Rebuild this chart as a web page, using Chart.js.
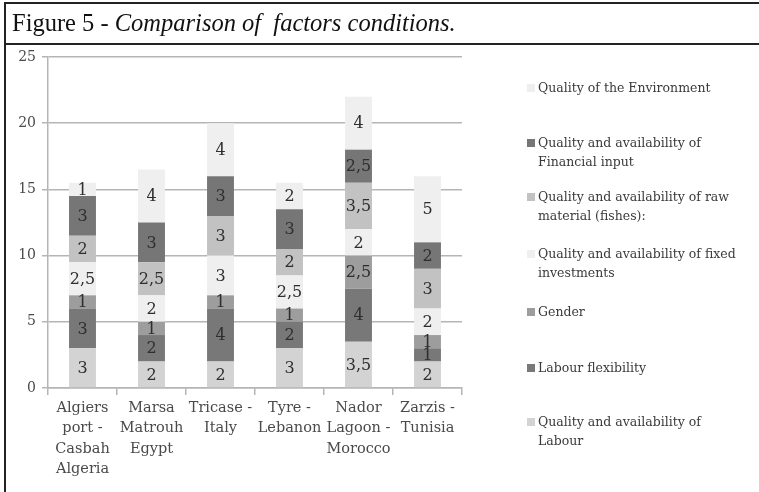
<!DOCTYPE html>
<html><head><meta charset="utf-8">
<script src="https://cdn.jsdelivr.net/npm/chart.js@4/dist/chart.umd.min.js"></script>
<style>
html,body{margin:0;padding:0;background:#fff;}
#wrap{position:relative;width:759px;height:492px;overflow:hidden;background:#fff;}
#frame{position:absolute;left:4px;top:2px;width:800px;height:520px;border:2px solid #222;box-sizing:border-box;}
#sep{position:absolute;left:4px;top:43px;width:800px;height:2px;background:#222;}
#title{position:absolute;left:12px;top:9px;font-family:"Liberation Serif","Times New Roman",serif;font-size:24.5px;line-height:28px;color:#111;white-space:nowrap;}
#title i{font-style:italic;}
#c{position:absolute;left:0;top:0;}
#legend{position:absolute;left:527px;top:0;width:230px;font-family:"DejaVu Serif",serif;font-size:12.5px;color:#3a3a3a;}
.li{position:absolute;left:0;display:flex;align-items:flex-start;line-height:19px;}
.sw{width:8px;height:8px;margin-top:6px;margin-right:3px;flex:none;}
</style></head>
<body>
<div id="wrap">
<canvas id="c" width="759" height="492"></canvas>
<div id="frame"></div>
<div id="sep"></div>
<div id="title">Figure 5 - <i>Comparison of&nbsp; factors conditions.</i></div>
<div id="legend"></div>
</div>
<script>
const categories = [
  ["Algiers","port -","Casbah","Algeria"],
  ["Marsa","Matrouh","Egypt"],
  ["Tricase -","Italy"],
  ["Tyre -","Lebanon"],
  ["Nador","Lagoon -","Morocco"],
  ["Zarzis -","Tunisia"]
];
const seriesNames = [
  "Quality and availability of Labour",
  "Labour flexibility",
  "Gender",
  "Quality and availability of fixed investments",
  "Quality and availability of raw material (fishes):",
  "Quality and availability of Financial input",
  "Quality of the Environment"
];
const legendLines = [
  ["Quality and availability of","Labour"],
  ["Labour flexibility"],
  ["Gender"],
  ["Quality and availability of fixed","investments"],
  ["Quality and availability of raw","material (fishes):"],
  ["Quality and availability of","Financial input"],
  ["Quality of the Environment"]
];
const labourQuality   = [3, 2, 2, 3, 3.5, 2];
const labourFlex      = [3, 2, 4, 2, 4, 1];
const gender          = [1, 1, 1, 1, 2.5, 1];
const fixedInvest     = [2.5, 2, 3, 2.5, 2, 2];
const rawMaterial     = [2, 2.5, 3, 2, 3.5, 3];
const financialInput  = [3, 3, 3, 3, 2.5, 2];
const environment     = [1, 4, 4, 2, 4, 5];
const yTicks = [0, 5, 10, 15, 20, 25];

const seriesValues = [labourQuality, labourFlex, gender, fixedInvest, rawMaterial, financialInput, environment];
const colors = ["#d3d3d3","#787878","#9d9d9d","#efefef","#c2c2c2","#767676","#efefef"];

const datasets = seriesValues.map((v,i)=>({
  label: seriesNames[i],
  data: v,
  backgroundColor: colors[i],
  borderWidth: 0,
  barPercentage: 0.39,
  categoryPercentage: 1.0
}));

const valueLabels = {
  id:'valueLabels',
  afterDatasetsDraw(chart){
    const ctx = chart.ctx;
    ctx.save();
    ctx.font = '16px "DejaVu Serif", serif';
    ctx.fillStyle = '#2e2e2e';
    ctx.textAlign = 'center';
    ctx.textBaseline = 'middle';
    chart.data.datasets.forEach((ds,di)=>{
      const meta = chart.getDatasetMeta(di);
      meta.data.forEach((el,j)=>{
        const v = ds.data[j];
        if(!v) return;
        const y = (el.y + el.base)/2;
        ctx.fillText(String(v).replace('.',','), el.x, y+1);
      });
    });
    ctx.restore();
  }
};

new Chart(document.getElementById('c'), {
  type:'bar',
  data:{labels:categories, datasets},
  plugins:[valueLabels],
  options:{
    responsive:false,
    animation:false,
    layout:{padding:{left:0,top:57,right:297,bottom:0}},
    plugins:{legend:{display:false},tooltip:{enabled:false}},
    scales:{
      x:{
        stacked:true,
        offset:true,
        grid:{display:true,drawOnChartArea:false,drawTicks:true,tickLength:7,color:'#b5b5b5',lineWidth:1.5,offset:true},
        border:{display:true,color:'#b5b5b5',width:1.5},
        ticks:{font:{family:'"DejaVu Serif", serif',size:14.5,lineHeight:1.4},color:'#4a4a4a',maxRotation:0,autoSkip:false,padding:3},
        afterFit(s){ s.height = 104; }
      },
      y:{
        stacked:true,
        min:0,max:25,
        afterBuildTicks(s){ s.ticks = yTicks.map(v=>({value:v})); },
        grid:{color:'#b5b5b5',lineWidth:1.5,tickLength:6},
        border:{display:true,color:'#b5b5b5',width:1.5},
        ticks:{font:{family:'"DejaVu Serif", serif',size:14},color:'#4a4a4a',padding:6},
        afterFit(s){ s.width = 48; }
      }
    }
  }
});

const lg = document.getElementById('legend');
const legendY = [78, 133, 187, 244, 302, 358, 412];
for(let i=seriesNames.length-1;i>=0;i--){
  const pos = seriesNames.length-1-i;
  const d = document.createElement('div');
  d.className='li';
  d.style.top = legendY[pos]+'px';
  d.title = seriesNames[i];
  const sw = document.createElement('div');
  sw.className='sw'; sw.style.background=colors[i];
  const t = document.createElement('div');
  t.innerHTML = legendLines[i].join('<br>');
  d.appendChild(sw); d.appendChild(t);
  lg.appendChild(d);
}
</script>
</body></html>
